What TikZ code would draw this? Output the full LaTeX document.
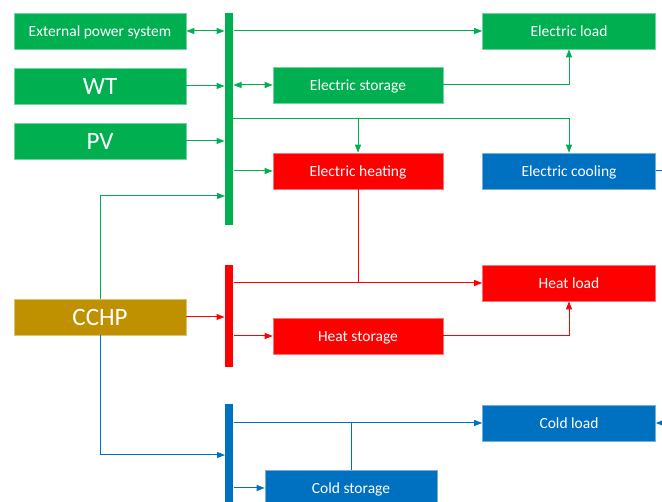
\documentclass[tikz,border=0pt]{standalone}
\usepackage{fontspec}
\setmainfont{Carlito}
\usetikzlibrary{arrows.meta, positioning, calc}
\definecolor{egreen}{HTML}{00B050}
\definecolor{hred}{HTML}{FF0000}
\definecolor{cblue}{HTML}{0070C0}
\definecolor{chpgold}{HTML}{BF9000}

\begin{document}
\begin{tikzpicture}[x=1pt, y=-1pt, >={Triangle[length=8pt,width=6pt]}, line width=1pt,
    box/.style={minimum width=172pt, minimum height=36pt, inner sep=0pt, text=white,
      font=\fontsize{15.5}{18}\selectfont, text height=13pt, text depth=1pt,
      fill=#1, draw=#1!55!white, line width=0.6pt},
    big/.style={font=\fontsize{25}{28}\selectfont, text height=19pt, text depth=1pt},
    bus/.style={fill=#1, minimum width=8pt, inner sep=0pt, draw=none}]
      \clip (0,0) rectangle (662,502);

      % sources
      \node[box=egreen] (eps) at (100,31) {External power system};
      \node[box=egreen, big] (wt) at (100,86) {WT};
      \node[box=egreen, big] (pv) at (100,141) {PV};
      \node[box=chpgold, big] (cchp) at (100,317) {CCHP};

      % buses
      \node[bus=egreen, minimum height=212pt] (ebus) at (229,119) {};
      \node[bus=hred, minimum height=102pt] (hbus) at (229,316) {};
      \node[bus=cblue, minimum height=110pt] (cbus) at (229,459) {};

      % storage and conversion
      \node[box=egreen, minimum width=170pt] (estor) at (358,85) {Electric storage};
      \node[box=hred, minimum width=170pt] (eheat) at (358,171) {Electric heating};
      \node[box=hred, minimum width=170pt] (hstor) at (358,336) {Heat storage};
      \node[box=cblue] (cstor) at (351,488) {Cold storage};

      % loads
      \node[box=egreen, minimum width=173pt] (eload) at (569,31) {Electric load};
      \node[box=cblue, minimum width=173pt] (ecool) at (569,171) {Electric cooling};
      \node[box=hred, minimum width=173pt] (hload) at (569,283) {Heat load};
      \node[box=cblue, minimum width=173pt] (cload) at (569,423) {Cold load};

      \coordinate (etap) at (233,119);
      \coordinate (ein) at (225,196);
      \coordinate (cin) at (225,455);
      \coordinate (coolout) at (662,171);
      \coordinate (coldin) at (662,423);

      % electricity
      \draw[<->, egreen] (eps.east) -- (eps.east -| ebus.west);
      \draw[->, egreen] (wt.east) -- (wt.east -| ebus.west);
      \draw[->, egreen] (pv.east) -- (pv.east -| ebus.west);
      \draw[->, egreen] (ebus.east |- eload) -- (eload.west);
      \draw[<->, egreen] (ebus.east |- estor) -- (estor.west);
      \draw[->, egreen] (estor.east) -| (eload.south);
      \draw[->, egreen] (etap) -| (ecool.north);
      \draw[->, egreen] (eheat.north |- etap) -- (eheat.north);
      \draw[->, egreen] (ebus.east |- eheat) -- (eheat.west);
      \draw[->, egreen] (cchp.north) |- (ein);

      % heat
      \draw[->, hred] (cchp.east) -- (cchp.east -| hbus.west);
      \draw[->, hred] (hbus.east |- hload) -- (hload.west);
      \draw[hred] (eheat.south) -- (eheat.south |- hload);
      \draw[->, hred] (hbus.east |- hstor) -- (hstor.west);
      \draw[->, hred] (hstor.east) -| (hload.south);

      % cold
      \draw[->, cblue] (cchp.south) |- (cin);
      \draw[->, cblue] (cbus.east |- cload) -- (cload.west);
      \draw[cblue] (cstor.north) -- (cstor.north |- cload);
      \draw[->, cblue] (cbus.east |- cstor) -- (cstor.west);
      \draw[cblue] (ecool.east) -- (coolout);
      \draw[->, cblue] (coldin) -- (cload.east);
    \end{tikzpicture}
\end{document}
